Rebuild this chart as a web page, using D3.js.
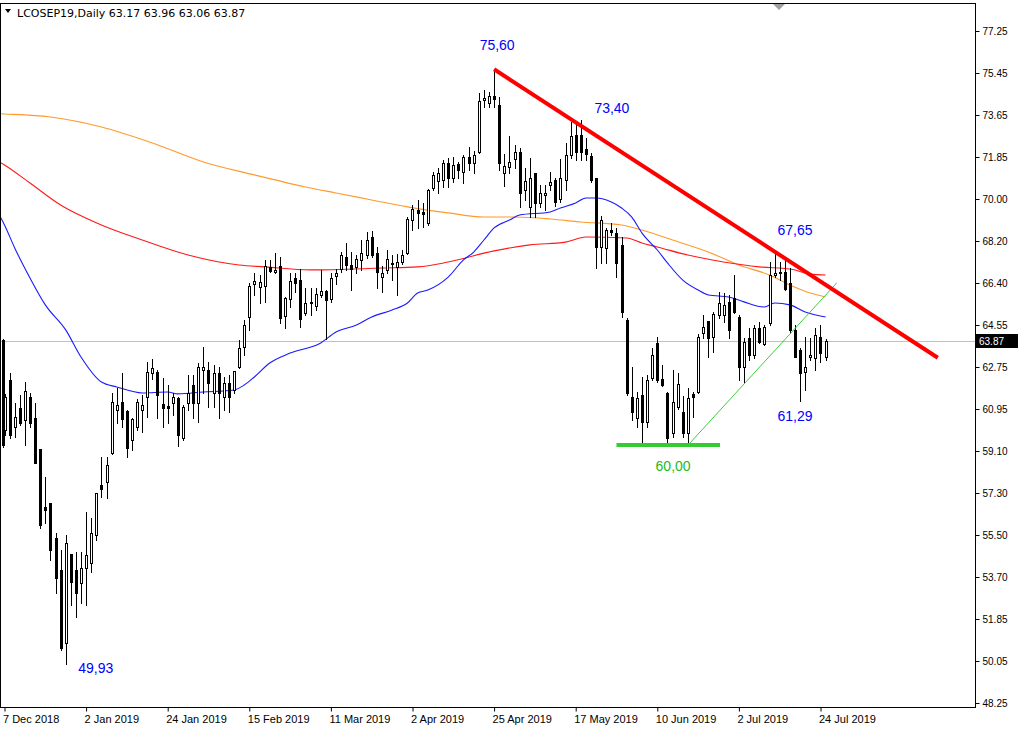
<!DOCTYPE html>
<html><head><meta charset="utf-8">
<script src="https://cdnjs.cloudflare.com/ajax/libs/d3/7.8.5/d3.min.js"></script>
<style>body{margin:0;background:#fff;} svg{display:block;}</style>
</head><body><svg id="c" width="1024" height="735"></svg>
<script>
// ---- DATA ----
const opens = [60.03,62.19,60.18,60.97,60.47,61.47,60.54,59.2,56.7,56.87,55.36,53.99,50.83,54.68,53.99,53.42,54.06,54.28,55.5,57.66,57.8,59.03,60.9,61.26,60.83,59.6,60.18,60.9,61.47,62.48,62.55,61.16,61.05,61.18,61.4,59.67,61.18,61.98,61.18,62.62,62.62,61.61,62.5,61.47,62.07,61.75,62.76,63.62,64.92,66.33,66.21,66.24,67.05,66.86,67.11,64.96,65.67,66.57,66.5,65.06,65.57,65.38,65.85,66.03,65.67,66.67,67.0,67.48,67.15,67.05,67.37,67.58,68.34,67.65,66.65,66.93,67.25,67.08,67.29,67.65,69.09,69.52,69.45,68.95,70.46,70.79,70.82,71.54,70.89,71.51,71.18,71.83,71.57,72.04,74.27,74.13,74.45,74.06,71.11,71.4,71.72,72.04,70.39,69.67,71.11,69.84,70.17,70.6,70.82,69.98,70.82,71.9,72.76,72.76,72.14,71.86,70.89,67.94,67.87,68.66,68.55,68.01,64.78,61.47,60.53,61.54,60.39,62.26,63.77,62.22,61.61,59.89,61.04,60.82,59.89,61.58,61.69,64.2,64.74,64.06,64.99,64.99,65.57,65.71,64.92,62.76,63.99,63.27,64.42,63.74,64.66,66.72,66.87,66.87,66.36,64.35,63.48,62.55,63.2,63.13,64.06,63.17];
const highs = [61.6,62.48,61.18,61.54,62.12,61.62,61.18,59.2,58.02,56.87,55.57,54.85,55.5,54.68,54.78,54.78,56.51,56.22,57.33,58.88,58.85,61.62,61.83,62.48,60.9,60.54,61.37,61.54,62.95,63.08,62.62,62.26,61.98,61.62,61.47,61.11,62.41,62.41,62.91,63.6,62.98,62.83,62.76,62.33,62.4,62.59,63.91,64.77,66.36,66.79,66.72,67.37,67.37,67.65,67.51,65.78,66.82,66.79,66.96,66.14,66.14,66.14,66.93,66.07,66.79,67.0,67.72,68.11,67.72,67.58,68.23,68.59,68.63,67.91,67.11,67.8,67.58,67.62,67.8,69.23,69.74,69.95,69.81,70.42,71.18,71.32,71.68,71.76,71.83,71.61,71.9,72.23,72.09,74.56,74.7,74.63,75.60,74.42,71.94,72.72,72.33,72.19,71.32,71.75,71.11,70.6,70.6,71.18,70.89,71.71,72.4,73.34,73.27,73.40,72.62,71.97,70.89,69.27,68.73,68.95,68.73,68.37,64.85,62.76,61.69,62.33,62.41,63.56,64.06,62.84,61.69,62.62,62.48,61.5,61.83,61.69,64.16,64.99,64.74,65.14,66.0,65.93,65.86,66.72,64.99,63.99,64.42,64.56,64.71,64.56,67.3,67.65,67.3,67.37,67.01,64.56,63.56,64.06,63.99,64.42,64.56,63.96];
const lows = [59.8,59.67,59.75,60.25,59.39,60.18,58.6,55.79,56.0,54.42,52.98,50.54,49.93,52.48,51.98,52.55,52.48,53.92,55.29,57.16,57.09,58.98,60.32,60.18,58.86,59.17,60.03,59.96,60.61,62.22,60.54,60.18,60.32,60.68,59.34,59.6,60.9,60.54,60.39,61.62,61.03,61.03,60.53,60.89,60.82,61.61,62.69,63.26,64.34,65.85,65.52,65.57,66.86,66.79,64.63,64.42,65.35,66.0,64.49,64.99,64.99,65.21,65.78,63.94,65.57,66.33,66.86,66.93,66.07,66.79,66.93,67.44,67.51,66.14,66.0,66.79,66.5,65.85,67.19,67.62,68.66,68.73,68.8,68.88,70.39,70.25,70.5,70.53,70.75,70.89,70.71,71.25,71.11,71.97,73.99,73.99,73.99,71.25,70.56,71.11,71.32,69.64,69.96,69.24,69.24,69.67,69.53,70.39,69.7,69.88,70.39,71.76,71.68,71.68,71.68,70.75,67.01,67.25,67.25,68.45,66.65,64.89,61.54,60.46,60.17,59.46,60.17,62.19,62.12,61.93,59.49,59.74,60.92,59.74,59.46,60.61,61.61,63.99,63.2,63.41,64.85,64.71,63.99,65.07,62.19,62.05,63.05,63.13,63.77,63.7,64.56,66.65,66.5,66.07,64.2,63.2,61.29,61.76,63.05,62.62,62.98,63.06];
const closes = [61.47,59.82,60.58,60.32,61.72,60.35,58.62,55.93,56.6,54.86,53.63,50.61,55.14,53.49,52.98,54.06,54.64,55.57,57.33,57.47,58.52,61.26,61.11,60.5,59.24,60.5,61.23,61.11,62.55,62.7,61.54,60.97,61.0,61.44,59.82,61.04,61.62,61.18,62.77,62.77,62.05,62.47,61.61,62.04,61.47,62.59,63.55,64.56,66.24,66.46,66.43,67.11,66.89,66.93,64.85,65.71,66.46,66.39,64.8,65.52,65.52,65.9,66.03,65.64,66.57,66.79,67.58,67.15,66.96,67.39,67.65,68.23,67.58,66.86,66.79,67.39,67.22,67.29,67.58,69.12,69.55,69.41,69.35,70.39,71.04,71.11,71.54,70.89,71.47,71.25,71.83,71.54,71.9,74.23,74.34,74.45,74.3,71.54,71.43,71.61,72.04,70.25,70.79,70.89,69.81,70.25,70.27,70.75,69.88,70.89,71.9,72.72,72.04,72.04,71.94,70.82,67.92,69.09,68.66,68.59,67.22,65.14,61.61,60.82,61.4,60.39,62.19,63.27,62.19,61.97,59.67,61.25,62.01,59.89,61.4,61.44,64.06,64.49,63.99,65.04,65.5,65.42,64.35,65.14,62.76,63.84,63.27,64.42,63.84,64.46,66.72,66.82,66.79,66.1,64.35,63.2,62.48,62.77,63.27,64.13,63.34,63.87];
// partially hidden bar at the left edge of the window: [open, high, low, close]
const edgeBar = [63.9, 63.95, 59.3, 59.4];

const dateLabels = ["7 Dec 2018","2 Jan 2019","24 Jan 2019","15 Feb 2019","11 Mar 2019","2 Apr 2019","25 Apr 2019","17 May 2019","10 Jun 2019","2 Jul 2019","24 Jul 2019"];
const dateLabelBars = [0,16,32,48,64,80,96,112,128,144,160];
const priceTickLabels = ["48.25","50.05","51.85","53.70","55.50","57.30","59.10","60.95","62.75","64.55","66.40","68.20","70.00","71.85","73.65","75.45","77.25"];
const priceMin = 48.25, priceMax = 77.25;

// moving averages: [bar, price]
const blueMA = [[-1,69.3],[0,68.88],[2,67.89],[5,66.59],[8,65.43],[12,64.35],[15,63.18],[19,62.10],[22,61.89],[27,61.63],[32,61.67],[34,61.59],[39,61.67],[45,61.76],[47,61.97],[49,62.32],[52,62.92],[56,63.35],[62,63.79],[65,64.26],[69,64.56],[72,64.91],[76,65.21],[79,65.51],[81,65.94],[83,66.07],[87,66.63],[90,67.37],[92,67.71],[94,68.23],[96,68.75],[99,69.09],[101,69.31],[107,69.44],[109,69.61],[112,69.83],[114,70.04],[116,70.04],[119,69.87],[121,69.61],[123,69.22],[125,68.53],[128,67.8],[130,67.24],[133,66.5],[136,66.07],[138,65.86],[142,65.77],[145,65.56],[149,65.34],[151,65.51],[154,65.43],[157,65.12],[161,64.91]];
const redMA = [[-1,71.6],[0,71.47],[5,70.69],[11,69.74],[19,68.88],[27,68.23],[36,67.58],[46,67.15],[51,67.07],[60,66.94],[74,67.02],[81,67.07],[87,67.28],[96,67.76],[103,68.02],[110,68.14],[114,68.36],[122,68.32],[125,68.1],[128,67.93],[134,67.58],[141,67.28],[148,67.07],[154,66.98],[158,66.76],[161,66.72]];
const orangeMA = [[-1,73.68],[0,73.67],[9,73.54],[19,73.11],[29,72.42],[39,71.6],[49,71.04],[59,70.52],[65,70.26],[72,69.96],[79,69.66],[87,69.4],[94,69.22],[100,69.22],[107,69.14],[113,69.01],[121,68.88],[125,68.66],[131,68.23],[138,67.71],[144,67.15],[150,66.72],[154,66.29],[158,65.94],[161,65.77]];

const resistanceLine = [[96,75.60],[183,63.15]];
const supportLevel = [[120,59.38],[140.3,59.38]];
const risingLine = [[134.4,59.47],[163.2,66.38]];
const annotations = [
  {text:"75,60", bar:96.6, price:76.65, color:"#0000ff"},
  {text:"73,40", bar:119.1, price:73.93, color:"#0000ff"},
  {text:"67,65", bar:155.0, price:68.66, color:"#0000ff"},
  {text:"61,29", bar:155.0, price:60.64, color:"#0000ff"},
  {text:"49,93", bar:17.9, price:49.76, color:"#0000ff"},
  {text:"60,00", bar:131.1, price:58.48, color:"#22bb22"}
];
const symbolTitle = "LCOSEP19,Daily";
const lastOHLC = ["63.17","63.96","63.06","63.87"];
const lastPrice = 63.87;

// ---- CHART ----
const svg = d3.select("#c");
const L = 0, R = 975, T = 3, B = 707;
const barStep = 5.1, firstX = 4.5;
const x = d3.scaleLinear().domain([-firstX/barStep, (R-firstX)/barStep]).range([L, R]);
const y = d3.scaleLinear().domain([priceMin, priceMax]).range([703, 31]);
const tickVals = priceTickLabels.map((_,k)=>priceMin + k*(priceMax-priceMin)/16);

svg.append("rect").attr("width",1024).attr("height",735).attr("fill","#fff");
svg.append("defs").append("clipPath").attr("id","clip").append("rect")
  .attr("x",L+1).attr("y",T+1).attr("width",R-L-1).attr("height",B-T-1);

const g = svg.append("g").attr("clip-path","url(#clip)");

// current price line
g.append("line").attr("x1",L).attr("x2",R)
  .attr("y1",Math.round(y(lastPrice))+0.5).attr("y2",Math.round(y(lastPrice))+0.5)
  .attr("stroke","#c0c0c0").attr("stroke-width",1);

// MAs
const maLine = d3.line().x(d=>x(d[0])).y(d=>y(d[1])).curve(d3.curveMonotoneX);
[[orangeMA,"#ff9a2e"],[redMA,"#ff1a1a"],[blueMA,"#1a1aff"]].forEach(([d,c])=>{
  g.append("path").datum(d).attr("d",maLine).attr("fill","none").attr("stroke",c).attr("stroke-width",1.1);
});

// candles
const cg = g.append("g");
function candle(cx, o, h, l, c) {
  cg.append("line").attr("x1",cx+0.5).attr("x2",cx+0.5)
    .attr("y1",Math.round(y(h))).attr("y2",Math.round(y(l))+1)
    .attr("stroke","#000").attr("stroke-width",1);
  const top = Math.round(y(Math.max(o,c))), bot = Math.round(y(Math.min(o,c)));
  if (c >= o) {
    cg.append("rect").attr("x",cx-0.5).attr("y",top+0.5).attr("width",2).attr("height",Math.max(bot-top,1))
      .attr("fill","#fff").attr("stroke","#000").attr("stroke-width",1);
  } else {
    cg.append("rect").attr("x",cx-1).attr("y",top).attr("width",3).attr("height",Math.max(bot-top,1)+1)
      .attr("fill","#000");
  }
}
candle(Math.round(x(-0.3)), ...edgeBar);
d3.range(opens.length).forEach(i=>{
  candle(Math.round(x(i)), opens[i], highs[i], lows[i], closes[i]);
});

// trend lines
const tl = d3.line().x(d=>x(d[0])).y(d=>y(d[1]));
g.append("path").datum(risingLine).attr("d",tl).attr("stroke","#3ccf3c").attr("stroke-width",1).attr("fill","none");
g.append("path").datum(resistanceLine).attr("d",tl).attr("stroke","#ff0000").attr("stroke-width",4).attr("fill","none");
g.append("path").datum(supportLevel).attr("d",tl).attr("stroke","#33cc33").attr("stroke-width",4).attr("fill","none");

// annotations
annotations.forEach(a=>{
  svg.append("text").attr("x",x(a.bar)).attr("y",y(a.price)).attr("text-anchor","middle")
    .attr("dominant-baseline","central").attr("font-family","'Liberation Sans', Arial, sans-serif")
    .attr("font-size",14).attr("fill",a.color).text(a.text);
});

// frame
svg.append("rect").attr("x",L+0.5).attr("y",T+0.5).attr("width",R-L).attr("height",B-T)
  .attr("fill","none").attr("stroke","#000").attr("stroke-width",1);

// right axis
const ya = svg.append("g").attr("transform",`translate(${R+0.5},0)`)
  .call(d3.axisRight(y).tickValues(tickVals).tickFormat((d,k)=>priceTickLabels[k]).tickSize(4).tickPadding(3));
ya.select(".domain").remove();
ya.selectAll("text").attr("font-family","'Liberation Sans', Arial, sans-serif").attr("font-size",10).attr("fill","#000");

// last price box
const ly = y(lastPrice);
svg.append("rect").attr("x",R+1).attr("y",Math.round(ly)-7).attr("width",42).attr("height",14).attr("fill","#000");
svg.append("text").attr("x",R+4).attr("y",ly).attr("dominant-baseline","central")
  .attr("font-family","'Liberation Sans', Arial, sans-serif").attr("font-size",10).attr("fill","#fff").text(lastPrice.toFixed(2));

// bottom axis
const xa = svg.append("g").attr("transform",`translate(0,${B+0.5})`)
  .call(d3.axisBottom(x).tickValues(dateLabelBars).tickFormat((d,k)=>dateLabels[k]).tickSize(4).tickPadding(4));
xa.select(".domain").remove();
xa.selectAll("text").attr("text-anchor","start").attr("dx",-2)
  .attr("font-family","'Liberation Sans', Arial, sans-serif").attr("font-size",11).attr("fill","#000");

// title
svg.append("path").attr("d","M5,9 L11,9 L8,13 Z").attr("fill","#000");
svg.append("text").attr("x",17).attr("y",17).attr("font-family","'DejaVu Sans', sans-serif").attr("font-size",11)
  .attr("fill","#000").text(symbolTitle + "  " + lastOHLC.join(" "));

// shift marker
svg.append("path").attr("d","M773,4 L785,4 L779,10 Z").attr("fill","#a0a0a0");
</script></body></html>
